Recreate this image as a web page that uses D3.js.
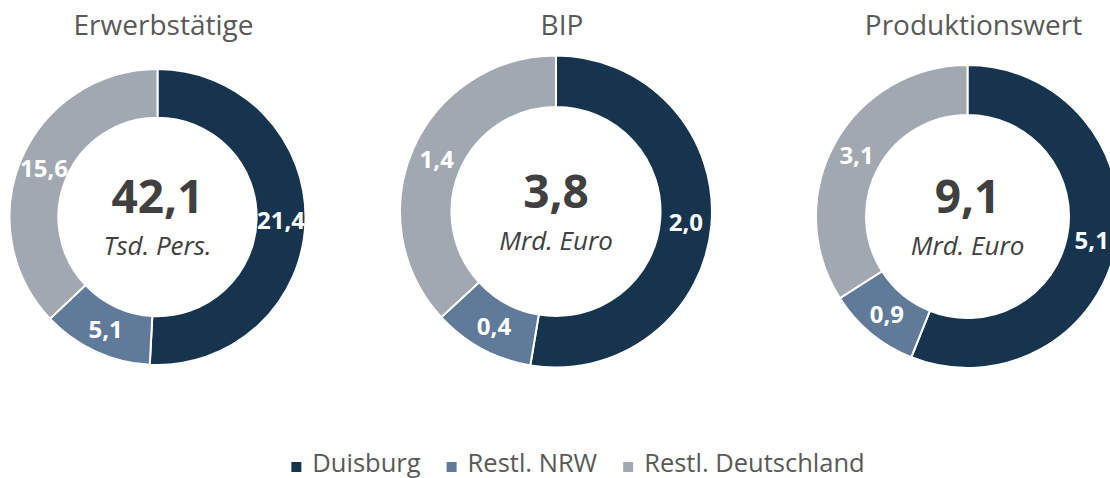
<!DOCTYPE html>
<html>
<head>
<meta charset="utf-8">
<script src="https://cdn.jsdelivr.net/npm/d3@7"></script>
<style>
  body { margin: 0; background: #fff; }
  svg { display: block; font-family: "Open Sans", sans-serif; }
</style>
</head>
<body>
<svg id="chart" width="1110" height="478"></svg>
<script>
// data
var categories = ["Duisburg", "Restl. NRW", "Restl. Deutschland"];
var titles = ["Erwerbstätige", "BIP", "Produktionswert"];
var units = ["Tsd. Pers.", "Mrd. Euro", "Mrd. Euro"];
var erwerbstaetige = [21.4, 5.1, 15.6];
var bip = [2.0, 0.4, 1.4];
var produktionswert = [5.1, 0.9, 3.1];

var series = [erwerbstaetige, bip, produktionswert];

// each donut sits a bit differently, like in the original
var layout = [
  { cx: 157.5, cy: 217, r: 148 },
  { cx: 556, cy: 211.5, r: 156 },
  { cx: 967.5, cy: 216.5, r: 151.5 }
];

var color = d3.scaleOrdinal()
  .domain(categories)
  .range(["#17344f", "#607b99", "#a1a8b1"]);

var de = d3.formatLocale({ decimal: ",", thousands: ".", grouping: [3], currency: ["", " €"] });
var fmt = de.format(".1f");

var svg = d3.select("#chart");

var pie = d3.pie()
  .sort(null)
  .value(function(d) { return d.value; });

series.forEach(function(values, i) {
  var L = layout[i];
  var rows = values.map(function(v, j) { return { cat: categories[j], value: v }; });

  var arc = d3.arc()
    .innerRadius(L.r * 0.67)
    .outerRadius(L.r);
  var labelArc = d3.arc()
    .innerRadius(L.r * 0.835)
    .outerRadius(L.r * 0.835);

  svg.append("text")
    .attr("x", L.cx + 6)
    .attr("y", 35)
    .attr("text-anchor", "middle")
    .attr("font-size", 28)
    .attr("fill", "#595959")
    .text(titles[i]);

  var g = svg.append("g")
    .attr("transform", "translate(" + L.cx + "," + L.cy + ")");

  var arcs = pie(rows);

  g.selectAll("path")
    .data(arcs)
    .enter().append("path")
    .attr("d", arc)
    .attr("fill", function(d) { return color(d.data.cat); })
    .attr("stroke", "#fff")
    .attr("stroke-width", 2);

  g.selectAll("text.lbl")
    .data(arcs)
    .enter().append("text")
    .attr("class", "lbl")
    .attr("transform", function(d) { return "translate(" + labelArc.centroid(d) + ")"; })
    .attr("dy", "0.36em")
    .attr("text-anchor", "middle")
    .attr("font-size", 24)
    .attr("font-weight", "bold")
    .attr("fill", "#fff")
    .text(function(d) { return fmt(d.data.value); });

  g.append("text")
    .attr("y", -4)
    .attr("text-anchor", "middle")
    .attr("font-size", 46)
    .attr("font-weight", "bold")
    .attr("fill", "#404040")
    .text(fmt(d3.sum(values)));

  g.append("text")
    .attr("y", 38)
    .attr("text-anchor", "middle")
    .attr("font-size", 26)
    .attr("font-style", "italic")
    .attr("fill", "#404040")
    .text(units[i]);
});

// legend
var legend = svg.append("g");
var x = 0;
categories.forEach(function(c) {
  var item = legend.append("g").attr("transform", "translate(" + x + ",0)");
  item.append("rect")
    .attr("x", 0).attr("y", -10)
    .attr("width", 10).attr("height", 10)
    .attr("fill", color(c));
  var t = item.append("text")
    .attr("x", 21).attr("y", 0)
    .attr("font-size", 25.5)
    .attr("fill", "#595959")
    .text(c);
  x += 21 + t.node().getComputedTextLength() + 26;
});
var legendW = x - 26;
legend.attr("transform", "translate(" + (578 - legendW / 2) + ",472)");
</script>
</body>
</html>
